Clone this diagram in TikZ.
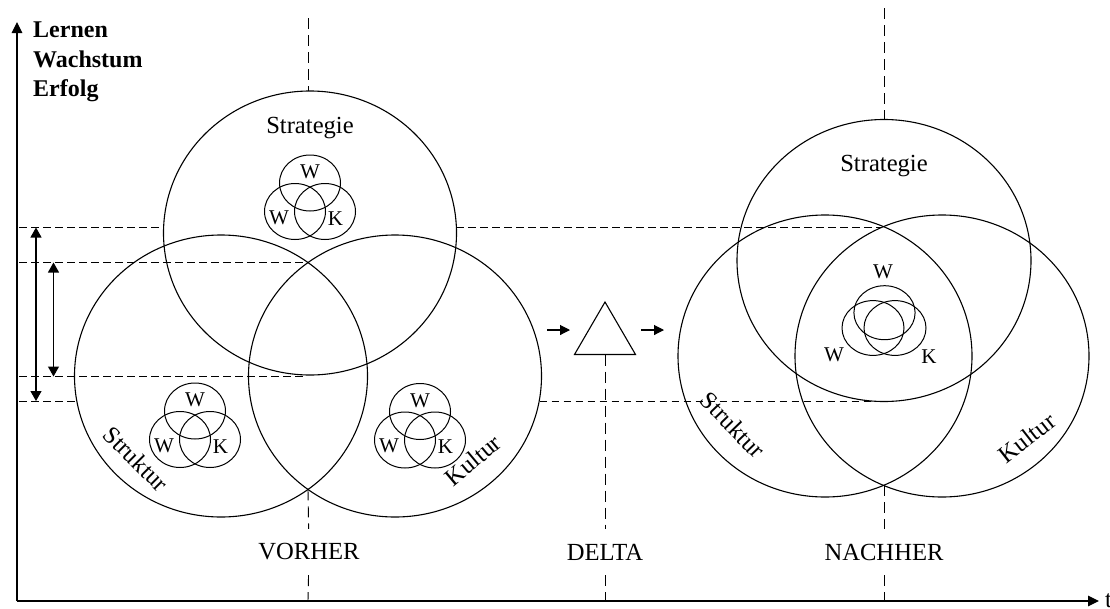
\documentclass[tikz,border=0pt]{standalone}
\usepackage{fontspec}
\setmainfont{Liberation Serif}
\usetikzlibrary{arrows.meta}
\begin{document}
\begin{tikzpicture}[x=1pt,y=-1pt,
  ring/.style={line width=1.1pt},
  smallring/.style={line width=1pt},
  hdash/.style={line width=0.9pt, dash pattern=on 7.5pt off 4.5pt},
  vdash/.style={line width=0.9pt, dash pattern=on 11pt off 6pt},
  axisline/.style={line width=1.2pt, -{Triangle[length=11pt,width=10.5pt]}},
  span/.style={line width=1.1pt, {Triangle[length=10pt,width=11pt]}-{Triangle[length=10pt,width=11pt]}},
  flow/.style={line width=1.1pt, -{Triangle[length=10pt,width=10pt]}},
  big/.style={font=\fontsize{24.6}{28}\selectfont, inner sep=0pt},
  gaplabel/.style={big, minimum height=46pt},
  wk/.style={font=\fontsize{21}{23}\selectfont, inner sep=0pt},
  axislabel/.style={font=\bfseries\fontsize{24}{29}\selectfont, anchor=base west, inner sep=0pt},
  triad/.pic={
    \draw[smallring] (0,-19) ellipse [x radius=30.5, y radius=28];
    \draw[smallring] (-15,9.5) ellipse [x radius=30.5, y radius=28];
    \draw[smallring] (15,9.5) ellipse [x radius=30.5, y radius=28];
    \node[wk] (-top) at (0,-30) {W};
    \node[wk] (-left) at (-31,15.5) {W};
    \node[wk] (-right) at (25.5,16.5) {K};
  }
]
\clip (0,0) rectangle (1110,608);
\useasboundingbox (0,0) rectangle (1110,608);

% axes
\coordinate (origin) at (17,601);
\coordinate (ytip) at (17,22);
\coordinate (xtip) at (1099,601);
\draw[axisline] (origin) -- (ytip);
\draw[axisline] (origin) -- (xtip);
\node[axislabel] (lernen) at (33,37.5) {Lernen};
\node[axislabel] (wachstum) at (33,67) {Wachstum};
\node[axislabel] (erfolg) at (33,96.5) {Erfolg};
\node[big, anchor=base west] (t) at (1105,607) {t};

% ---------- before: three large circles ----------
\coordinate (stratL) at (310,233);
\coordinate (strukL) at (221,376);
\coordinate (kultL) at (395,376);
\draw[ring] (stratL) ellipse [x radius=146.5, y radius=142];
\draw[ring] (strukL) ellipse [x radius=146.5, y radius=141];
\draw[ring] (kultL) ellipse [x radius=146.5, y radius=141];
\node[big] (stratLtxt) at (310,128) {Strategie};
\node[big, rotate=-45] (strukLtxt) at (136,459) {Struktur};
\node[big, rotate=40] (kultLtxt) at (473,460) {Kultur};

\pic (triS) at (310,202) {triad};
\pic (triT) at (195,430) {triad};
\pic (triK) at (420,430.5) {triad};

% ---------- after: three large circles ----------
\coordinate (stratR) at (884,260.5);
\coordinate (strukR) at (825,356);
\coordinate (kultR) at (942,356);
\draw[ring] (stratR) ellipse [x radius=147, y radius=141];
\draw[ring] (strukR) ellipse [x radius=147, y radius=141];
\draw[ring] (kultR) ellipse [x radius=147, y radius=141];
\node[big] (stratRtxt) at (884,166) {Strategie};
\node[big, rotate=-46] (strukRtxt) at (733,425) {Struktur};
\node[big, rotate=38] (kultRtxt) at (1027,438) {Kultur};

% merged triad
\draw[smallring] (884.5,312.7) ellipse [x radius=30.6, y radius=27];
\draw[smallring] (873,328) ellipse [x radius=31, y radius=27.4];
\draw[smallring] (895,328) ellipse [x radius=31, y radius=27.4];
\node[wk] (wR1) at (883,272) {W};
\node[wk] (wR2) at (834,355) {W};
\node[wk] (kR) at (929,357) {K};

% ---------- delta ----------
\coordinate (apex) at (605,302);
\coordinate (baseL) at (574.5,354.5);
\coordinate (baseR) at (635.5,354.5);
\coordinate (baseM) at (605,354.5);
\draw[line width=1.1pt] (apex) -- (baseL) -- (baseR) -- cycle;
\coordinate (f1a) at (547,330);
\coordinate (f1b) at (570,330);
\coordinate (f2a) at (641,330);
\coordinate (f2b) at (664,330);
\draw[flow] (f1a) -- (f1b);
\draw[flow] (f2a) -- (f2b);

% ---------- time markers ----------
\node[gaplabel] (vorher) at (309,552) {VORHER};
\node[gaplabel] (delta) at (605,552) {DELTA};
\node[gaplabel] (nachher) at (884,552) {NACHHER};
\coordinate (vTop) at (308,18);
\coordinate (vCirc) at (308,91);
\coordinate (vLow) at (308,489.4);
\coordinate (vAxis) at (308,601);
\coordinate (nTop) at (884,8);
\coordinate (nCirc) at (884,119.5);
\coordinate (nLow) at (884,485);
\coordinate (nAxis) at (884,601);
\coordinate (dAxis) at (605,601);
\draw[vdash] (vTop) -- (vCirc);
\draw[vdash] (vLow) -- (vorher);
\draw[vdash] (vorher) -- (vAxis);
\draw[vdash] (baseM) -- (delta);
\draw[vdash] (delta) -- (dAxis);
\draw[vdash] (nTop) -- (nCirc);
\draw[vdash] (nLow) -- (nachher);
\draw[vdash] (nachher) -- (nAxis);

% ---------- level lines ----------
\coordinate (h1a) at (19,227.5);
\coordinate (h1b) at (163.6,227.5);
\coordinate (h1c) at (456.4,227.5);
\coordinate (h1d) at (882,227.5);
\coordinate (h2a) at (19,262.5);
\coordinate (h2b) at (308,262.5);
\coordinate (h3a) at (19,376.5);
\coordinate (h3b) at (306,376.5);
\coordinate (h4a) at (19,401);
\coordinate (h4b) at (76.5,401);
\coordinate (h4c) at (539.5,401);
\coordinate (h4d) at (882,401);
\draw[hdash] (h1a) -- (h1b);
\draw[hdash] (h1c) -- (h1d);
\draw[hdash] (h2a) -- (h2b);
\draw[hdash] (h3a) -- (h3b);
\draw[hdash] (h4a) -- (h4b);
\draw[hdash] (h4c) -- (h4d);

% ranges
\coordinate (s1a) at (36,227.5);
\coordinate (s1b) at (36,401);
\coordinate (s2a) at (53.5,262.5);
\coordinate (s2b) at (53.5,376.5);
\draw[span] (s1a) -- (s1b);
\draw[span] (s2a) -- (s2b);
\end{tikzpicture}
\end{document}
